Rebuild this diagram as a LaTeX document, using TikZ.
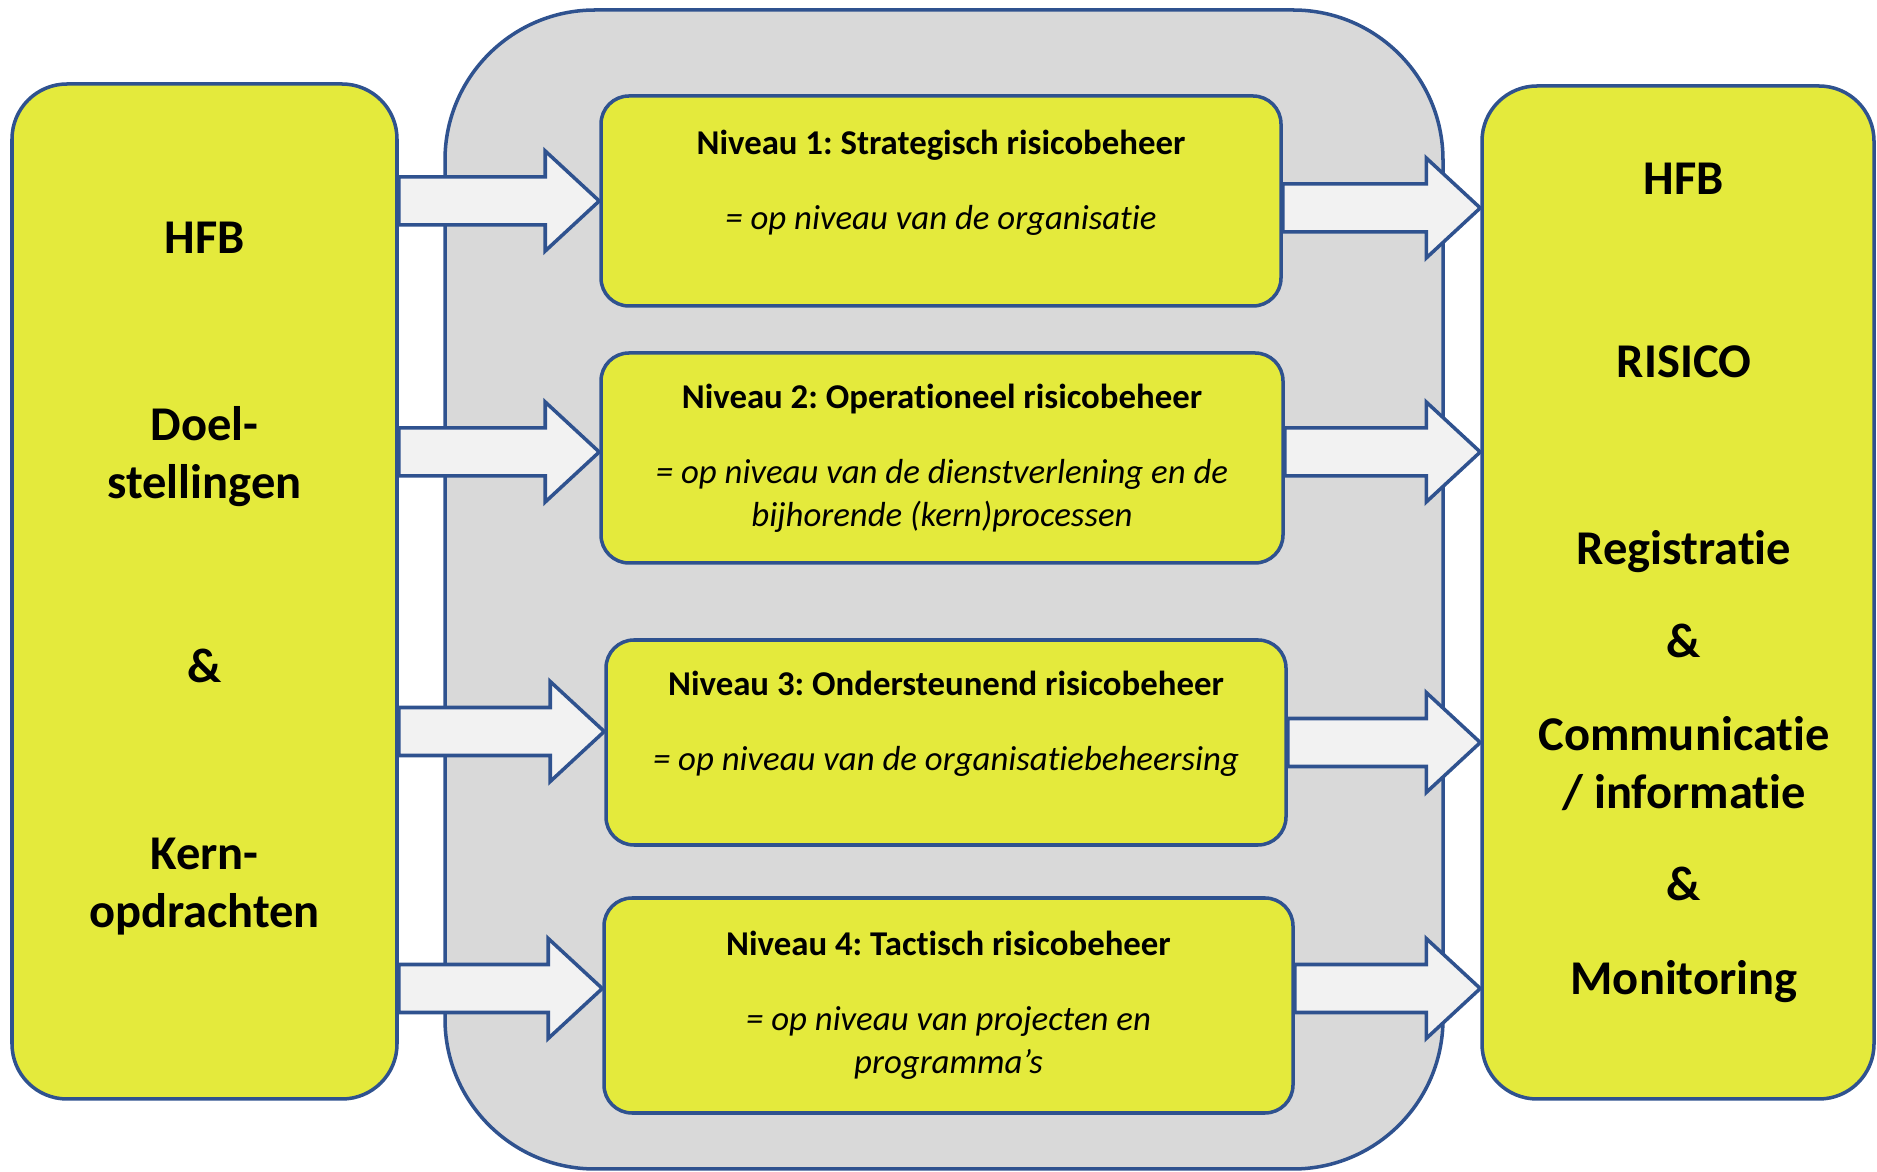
\documentclass[tikz,border=0pt]{standalone}
\usepackage{fontspec}
\setmainfont{Carlito}[Ligatures=NoCommon]
\frenchspacing
\usetikzlibrary{calc}

\definecolor{lijnblauw}{RGB}{47,82,143}
\definecolor{geel}{RGB}{228,234,60}
\definecolor{kadergrijs}{RGB}{217,217,217}
\definecolor{pijlwit}{RGB}{242,242,242}

\tikzset{
  kader/.style={draw=lijnblauw, fill=kadergrijs, line width=1pt, rounded corners=15mm, inner sep=0pt},
  zijvak/.style={draw=lijnblauw, fill=geel, line width=1pt, rounded corners=5.5mm, inner sep=0pt},
  niveauvak/.style={draw=lijnblauw, fill=geel, line width=1pt, rounded corners=2.8mm, inner sep=0pt,
    align=center, font=\fontsize{9.9}{12.2}\selectfont},
  grotetekst/.style={align=center, font=\fontsize{13.8}{16.5}\selectfont\bfseries},
  blokpijl/.style={draw=lijnblauw, fill=pijlwit, line width=1pt, line join=miter},
}

% block arrow: horizontal, y taken from the end point
\newcommand{\blokpijl}[2]{%
  \draw[blokpijl] let \p1=#1, \p2=#2 in
    (\x1,\y2+2.4mm) -- (\x2-5.4mm,\y2+2.4mm) -- (\x2-5.4mm,\y2+5mm) -- (\p2)
    -- (\x2-5.4mm,\y2-5mm) -- (\x2-5.4mm,\y2-2.4mm) -- (\x1,\y2-2.4mm) -- cycle;}

\begin{document}
\begin{tikzpicture}[x=0.1mm, y=-0.1mm]
  \useasboundingbox (0,0) rectangle (1877,1172);

  % grey frame round the four levels
  \node[kader, minimum width=99.8mm, minimum height=115.9mm] (kader) at (944,589.5) {};

  % left and right columns
  \node[zijvak, minimum width=38.5mm, minimum height=101.5mm] (links) at (204.5,591.5) {};
  \node[zijvak, minimum width=39.2mm, minimum height=101.3mm] (rechts) at (1678,592.5) {};

  \node[grotetekst] (linkstekst) at ([yshift=1.3mm]links.center)
    {HFB\\[12.9mm] Doel-\\stellingen\\[12.6mm] \&\\[12.9mm] Kern-\\opdrachten};
  \node[grotetekst] (rechtstekst) at ([xshift=0.6mm, yshift=1.0mm]rechts.center)
    {HFB\\[12.5mm] RISICO\\[12.9mm] Registratie\\[3.5mm] \&\\[3.5mm] Communicatie\\/ informatie\\[3.4mm] \&\\[3.6mm] Monitoring};

  % the four levels
  \node[niveauvak, minimum width=68mm, minimum height=21mm] (n1) at (941,201)
    {\textbf{Niveau 1: Strategisch risicobeheer}\\[3.2mm] \textit{= op niveau van de organisatie}\\ \mbox{}};
  \node[niveauvak, minimum width=68.2mm, minimum height=21mm] (n2) at (942,458)
    {\textbf{Niveau 2: Operationeel risicobeheer}\\[3.2mm] \textit{= op niveau van de dienstverlening en de}\\ \textit{bijhorende (kern)processen}};
  \node[niveauvak, minimum width=68mm, minimum height=20.5mm] (n3) at (946,742.5)
    {\textbf{Niveau 3: Ondersteunend risicobeheer}\\[3.2mm] \textit{= op niveau van de organisatiebeheersing}\\ \mbox{}};
  \node[niveauvak, minimum width=68.9mm, minimum height=21.5mm] (n4) at (948.5,1005.5)
    {\textbf{Niveau 4: Tactisch risicobeheer}\\[3.2mm] \textit{= op niveau van projecten en}\\ \textit{programma’s}};

  % arrows in
  \blokpijl{(links.east)}{(n1.west)}
  \blokpijl{(links.east)}{([yshift=0.6mm]n2.west)}
  \blokpijl{(links.east)}{([yshift=1.1mm]n3.west)}
  \blokpijl{(links.east)}{([yshift=1.7mm]n4.west)}
  % arrows out
  \blokpijl{(n1.east)}{([yshift=-0.7mm]rechts.west |- n1.east)}
  \blokpijl{(n2.east)}{([yshift=0.6mm]rechts.west |- n2.east)}
  \blokpijl{(n3.east)}{(rechts.west |- n3.east)}
  \blokpijl{(n4.east)}{([yshift=1.7mm]rechts.west |- n4.east)}
\end{tikzpicture}
\end{document}
